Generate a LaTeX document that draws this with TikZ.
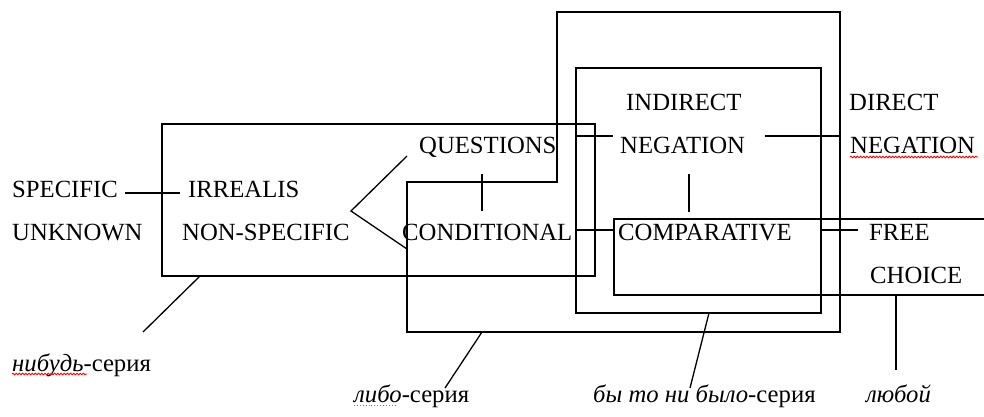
\documentclass[tikz,border=0pt]{standalone}
\usepackage{fontspec}
\setmainfont{Liberation Serif}
\usetikzlibrary{decorations.pathmorphing}
\tikzset{
  lbl/.style={anchor=base west, inner sep=0pt, font=\fontsize{24.7}{30}\selectfont},
  frame/.style={line width=1.4pt, line join=miter},
  conn/.style={line width=1.3pt},
  spell/.style={red, line width=0.9pt, decorate, decoration={snake, segment length=3.2pt, amplitude=0.8pt}},
  spellblue/.style={blue!60, line width=0.9pt, dotted}
}
\begin{document}
\begin{tikzpicture}[x=1pt,y=-1pt]
\useasboundingbox (0,0) rectangle (984,416);

% frames
\draw[frame] (162,124) rectangle (595,276);
\draw[frame] (407,182) -- (557,182) -- (557,12) -- (840,12) -- (840,332) -- (407,332) -- cycle;
\draw[frame] (576,68) rectangle (821,313);
\draw[frame] (986,219) -- (614,219) -- (614,295) -- (986,295);

% labels
\node[lbl] (spec) at (12,197) {SPECIFIC};
\node[lbl] (unkn) at (12,240) {UNKNOWN};
\node[lbl] (irr) at (188,197) {IRREALIS};
\node[lbl] (nons) at (182,240) {NON-SPECIFIC};
\node[lbl] (ques) at (419,153) {QUESTIONS};
\node[lbl] (cond) at (402,240) {CONDITIONAL};
\node[lbl] (indir) at (626,110) {INDIRECT};
\node[lbl] (ineg) at (620,153) {NEGATION};
\node[lbl] (comp) at (618,240) {COMPARATIVE};
\node[lbl] (dir) at (849,110) {DIRECT};
\node[lbl] (dneg) at (850,153) {NEGATION};
\node[lbl] (free) at (869,240) {FREE};
\node[lbl] (choice) at (870,283) {CHOICE};
\node[lbl] (nib) at (12,371) {\textit{нибудь}-серия};
\node[lbl] (lib) at (354,402) {\textit{либо}-серия};
\node[lbl] (byt) at (593,402) {\textit{бы то ни было}-серия};
\node[lbl] (lyub) at (866,402) {\textit{любой}};

% spelling marks
\draw[spell] (12,374) -- (87,374);
\draw[spell] (850,157) -- (978,157);
\draw[spellblue] (354,405) -- (396,405);

% connector end points
\coordinate (si1) at (125,193); \coordinate (si2) at (180,193);
\coordinate (br1) at (407,156); \coordinate (br0) at (351,211); \coordinate (br2) at (407,249);
\coordinate (qc1) at (482,174); \coordinate (qc2) at (482,211);
\coordinate (qn1) at (576,136); \coordinate (qn2) at (613,136);
\coordinate (nd1) at (765,136); \coordinate (nd2) at (840,136);
\coordinate (nc1) at (689,174); \coordinate (nc2) at (689,212);
\coordinate (cc1) at (576,230); \coordinate (cc2) at (614,230);
\coordinate (cf1) at (822,230); \coordinate (cf2) at (858,230);
\coordinate (l1a) at (200,276); \coordinate (l1b) at (143,332);
\coordinate (l2a) at (482,332); \coordinate (l2b) at (445,388);
\coordinate (l3a) at (709,313); \coordinate (l3b) at (690,388);
\coordinate (l4a) at (896,295); \coordinate (l4b) at (896,370);

\draw[conn] (si1) -- (si2);
\draw[conn] (br1) -- (br0) -- (br2);
\draw[conn] (qc1) -- (qc2);
\draw[conn] (qn1) -- (qn2);
\draw[conn] (nd1) -- (nd2);
\draw[conn] (nc1) -- (nc2);
\draw[conn] (cc1) -- (cc2);
\draw[conn] (cf1) -- (cf2);
\draw[conn] (l1a) -- (l1b);
\draw[conn] (l2a) -- (l2b);
\draw[conn] (l3a) -- (l3b);
\draw[conn] (l4a) -- (l4b);
\end{tikzpicture}
\end{document}
